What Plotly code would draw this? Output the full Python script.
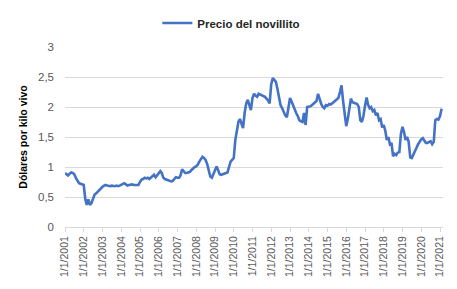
import plotly.graph_objects as go

# Monthly beef steer price (USD per kg live weight), Jan 2001 - Feb 2021
precio_2001 = [0.90, 0.88, 0.86, 0.89, 0.91, 0.90, 0.88, 0.82, 0.78, 0.73, 0.72, 0.71]
precio_2002 = [0.70, 0.46, 0.37, 0.46, 0.37, 0.40, 0.46, 0.54, 0.56, 0.59, 0.62, 0.65]
precio_2003 = [0.67, 0.69, 0.70, 0.69, 0.68, 0.68, 0.69, 0.68, 0.68, 0.69, 0.68, 0.69]
precio_2004 = [0.70, 0.72, 0.73, 0.71, 0.69, 0.70, 0.71, 0.71, 0.70, 0.70, 0.69, 0.70]
precio_2005 = [0.75, 0.79, 0.80, 0.82, 0.81, 0.82, 0.80, 0.82, 0.85, 0.87, 0.83, 0.86]
precio_2006 = [0.88, 0.93, 0.90, 0.82, 0.80, 0.79, 0.79, 0.78, 0.76, 0.77, 0.80, 0.83]
precio_2007 = [0.82, 0.82, 0.86, 0.96, 0.93, 0.90, 0.90, 0.91, 0.92, 0.95, 0.98, 1.00]
precio_2008 = [1.01, 1.04, 1.09, 1.13, 1.17, 1.15, 1.12, 1.05, 0.92, 0.84, 0.82, 0.88]
precio_2009 = [0.95, 1.01, 0.95, 0.88, 0.87, 0.88, 0.89, 0.90, 0.91, 1.00, 1.09, 1.12]
precio_2010 = [1.15, 1.45, 1.62, 1.75, 1.80, 1.72, 1.65, 1.90, 2.06, 2.12, 2.02, 1.95]
precio_2011 = [2.15, 2.22, 2.19, 2.17, 2.22, 2.21, 2.20, 2.18, 2.17, 2.14, 2.11, 2.06]
precio_2012 = [2.38, 2.48, 2.45, 2.42, 2.30, 2.12, 2.03, 1.98, 1.90, 1.86, 1.83, 2.00]
precio_2013 = [2.15, 2.09, 2.02, 1.95, 1.90, 1.85, 1.78, 1.76, 1.75, 1.90, 1.70, 2.00]
precio_2014 = [2.00, 2.01, 2.03, 2.05, 2.07, 2.10, 2.22, 2.13, 2.05, 2.00, 1.98, 2.03]
precio_2015 = [2.02, 2.05, 2.04, 2.06, 2.08, 2.10, 2.12, 2.15, 2.25, 2.36, 2.10, 1.85]
precio_2016 = [1.68, 1.80, 2.00, 2.14, 2.08, 2.07, 2.06, 2.05, 2.00, 1.78, 1.75, 1.85]
precio_2017 = [2.02, 2.16, 2.04, 1.98, 2.00, 1.93, 1.95, 1.86, 1.90, 1.78, 1.80, 1.66]
precio_2018 = [1.70, 1.60, 1.45, 1.50, 1.38, 1.40, 1.18, 1.22, 1.20, 1.24, 1.25, 1.55]
precio_2019 = [1.67, 1.58, 1.45, 1.50, 1.42, 1.16, 1.15, 1.20, 1.26, 1.32, 1.38, 1.43]
precio_2020 = [1.46, 1.48, 1.43, 1.40, 1.40, 1.41, 1.43, 1.38, 1.42, 1.78, 1.80, 1.79]
precio_2021 = [1.85, 1.97]

years = list(range(2001, 2022))
series_by_year = [precio_2001, precio_2002, precio_2003, precio_2004, precio_2005,
                  precio_2006, precio_2007, precio_2008, precio_2009, precio_2010,
                  precio_2011, precio_2012, precio_2013, precio_2014, precio_2015,
                  precio_2016, precio_2017, precio_2018, precio_2019, precio_2020,
                  precio_2021]

tick_dates = [f"{y}-01-01" for y in years]
tick_labels = [f"1/1/{y}" for y in years]
y_tick_vals = [0, 0.5, 1, 1.5, 2, 2.5, 3]
y_tick_labels = ["0", "0,5", "1", "1,5", "2", "2,5", "3"]

fechas = []
precios = []
for y, vals in zip(years, series_by_year):
    for m, v in enumerate(vals, start=1):
        fechas.append(f"{y}-{m:02d}-01")
        precios.append(v)

FONT = "Liberation Sans, Arial, sans-serif"

fig = go.Figure()
fig.add_trace(go.Scatter(
    x=fechas, y=precios, mode="lines", name="Precio del novillito",
    line=dict(color="#4472C4", width=2.6),
))

fig.update_layout(
    width=457, height=289,
    margin=dict(l=65, r=14, t=47, b=62, autoexpand=False),
    paper_bgcolor="white", plot_bgcolor="white",
    font=dict(family=FONT, color="#595959"),
    showlegend=True,
    legend=dict(
        orientation="h", x=0.44, xanchor="center", y=1.133, yanchor="middle",
        font=dict(family=FONT, size=11.5, color="#262626", weight="bold"),
        itemwidth=30, bgcolor="rgba(0,0,0,0)",
    ),
    xaxis=dict(
        type="date",
        range=["2001-01-01", "2021-02-28"],
        tickvals=tick_dates, ticktext=tick_labels,
        tickangle=-90,
        tickfont=dict(family=FONT, size=10.5, color="#595959"),
        showgrid=False, zeroline=False,
        showline=True, linecolor="#d9d9d9", linewidth=1,
        ticks="outside", ticklen=4, tickcolor="#d9d9d9",
        automargin=False,
        fixedrange=True,
    ),
    yaxis=dict(
        range=[0, 3],
        tickvals=y_tick_vals, ticktext=y_tick_labels,
        tickfont=dict(family=FONT, size=11.5, color="#595959"),
        showgrid=True, gridcolor="#d9d9d9", gridwidth=1,
        zeroline=False, showline=False,
        ticklabelstandoff=10,
        title=dict(text="Dólares por kilo vivo", standoff=8,
                   font=dict(family=FONT, size=10.5, color="#000000", weight="bold")),
        automargin=False,
        fixedrange=True,
    ),
)

fig.write_html("out.html")
